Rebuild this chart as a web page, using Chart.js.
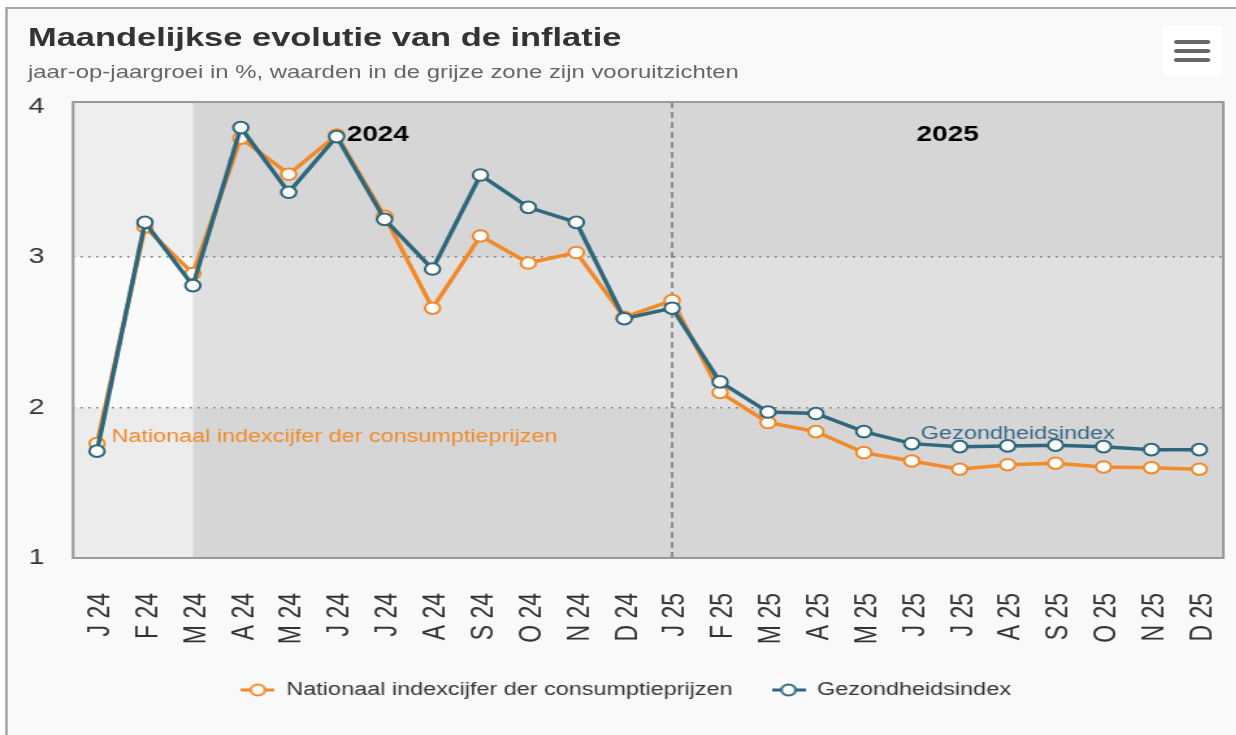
<!DOCTYPE html>
<html>
<head>
<meta charset="utf-8">
<script src="https://cdn.jsdelivr.net/npm/chart.js@4.4.1/dist/chart.umd.min.js"></script>
<style>
  html, body { margin: 0; padding: 0; background: #fff; overflow: hidden; }
  /* the reference is stretched horizontally, so the whole chart is drawn narrow and scaled */
  #wrap { position: absolute; left: 0; top: 0; width: 951px; height: 735px;
          transform: scaleX(1.3); transform-origin: 0 0;
          font-family: "Liberation Sans", Arial, sans-serif; }
  #frame { position: absolute; left: 4px; top: 7px; width: 1000px; height: 800px;
           border: 2px solid #a8a8a8; background: #f9f9f9; box-sizing: border-box; }
  #title { position: absolute; left: 21.5px; top: 22px; font-size: 26.5px; line-height: 30px;
           font-weight: bold; color: #333; white-space: nowrap; }
  #subtitle { position: absolute; left: 21.5px; top: 62px; font-size: 18.4px; line-height: 20px;
              color: #666; white-space: nowrap; }
  #menu { position: absolute; left: 894px; top: 26px; width: 46px; height: 50px;
          background: #fff; border-radius: 3px; }
  #menu span { position: absolute; left: 9px; width: 28px; height: 4px; border-radius: 2px; background: #666; }
  #chart { position: absolute; left: 0; top: 0; }
</style>
</head>
<body>
<div id="wrap">
  <div id="frame"></div>
  <canvas id="chart" width="951" height="735"></canvas>
  <div id="title">Maandelijkse evolutie van de inflatie</div>
  <div id="subtitle">jaar-op-jaargroei in %, waarden in de grijze zone zijn vooruitzichten</div>
  <div id="menu"><span style="top:14px"></span><span style="top:23px"></span><span style="top:32px"></span></div>
</div>
<script>
const months = ['J 24', 'F 24', 'M 24', 'A 24', 'M 24', 'J 24', 'J 24', 'A 24', 'S 24', 'O 24', 'N 24', 'D 24',
                'J 25', 'F 25', 'M 25', 'A 25', 'M 25', 'J 25', 'J 25', 'A 25', 'S 25', 'O 25', 'N 25', 'D 25'];
const nicp = [1.76, 3.20, 2.89, 3.79, 3.55, 3.81, 3.27, 2.66, 3.14, 2.96, 3.03, 2.60,
              2.71, 2.10, 1.90, 1.84, 1.70, 1.645, 1.59, 1.62, 1.63, 1.605, 1.60, 1.59];
const gezondheid = [1.71, 3.23, 2.81, 3.86, 3.43, 3.80, 3.25, 2.92, 3.545, 3.33, 3.23, 2.59,
                    2.66, 2.17, 1.97, 1.96, 1.84, 1.76, 1.74, 1.745, 1.75, 1.74, 1.72, 1.72];
const yTicks = [1, 2, 3, 4];
const forecastFrom = 2;   // index van M 24, begin grijze zone
const yearSplit = 12;     // index van J 25
const years = ['2024', '2025'];

const ORANGE = '#f28a2a';
const TEAL = '#2f687c';

// legend marker: lijn met open cirkel
function marker(color) {
  const c = document.createElement('canvas');
  c.width = 26; c.height = 14;
  const g = c.getContext('2d');
  g.strokeStyle = color; g.lineWidth = 3;
  g.beginPath(); g.moveTo(0, 7); g.lineTo(26, 7); g.stroke();
  g.fillStyle = '#fff'; g.lineWidth = 2;
  g.beginPath(); g.arc(13, 7, 5.5, 0, Math.PI * 2); g.fill(); g.stroke();
  return c;
}

const bandsPlugin = {
  id: 'bands',
  beforeDraw(chart) {
    const {ctx, chartArea: a, scales: {x, y}} = chart;
    const xf = x.getPixelForValue(forecastFrom);
    const y3 = y.getPixelForValue(3), y2 = y.getPixelForValue(2);
    ctx.save();
    // niet-vooruitzicht deel
    ctx.fillStyle = '#eeeeee'; ctx.fillRect(a.left, a.top, xf - a.left, y3 - a.top);
    ctx.fillStyle = '#fafafa'; ctx.fillRect(a.left, y3, xf - a.left, y2 - y3);
    ctx.fillStyle = '#ececec'; ctx.fillRect(a.left, y2, xf - a.left, a.bottom - y2);
    // grijze zone
    ctx.fillStyle = '#d6d6d6'; ctx.fillRect(xf, a.top, a.right - xf, y3 - a.top);
    ctx.fillStyle = '#e0e0e0'; ctx.fillRect(xf, y3, a.right - xf, y2 - y3);
    ctx.fillStyle = '#d6d6d6'; ctx.fillRect(xf, y2, a.right - xf, a.bottom - y2);
    ctx.restore();
  },
  beforeDatasetsDraw(chart) {
    const {ctx, chartArea: a, scales: {x}} = chart;
    const xs = x.getPixelForValue(yearSplit);
    ctx.save();
    ctx.strokeStyle = '#777'; ctx.lineWidth = 1.5; ctx.setLineDash([6, 4]);
    ctx.beginPath(); ctx.moveTo(xs, a.top); ctx.lineTo(xs, a.bottom); ctx.stroke();
    ctx.setLineDash([]);
    ctx.strokeStyle = '#999'; ctx.lineWidth = 2;
    ctx.strokeRect(a.left, a.top, a.right - a.left, a.bottom - a.top);
    // jaartallen
    const start = x.getPixelForValue(0) - (x.getPixelForValue(1) - x.getPixelForValue(0)) / 2;
    ctx.fillStyle = '#000'; ctx.font = 'bold 21.5px "Liberation Sans", Arial, sans-serif';
    ctx.textAlign = 'center'; ctx.textBaseline = 'middle';
    ctx.fillText(years[0], (start + xs) / 2 + 4, a.top + 33);
    ctx.fillText(years[1], (xs + a.right) / 2, a.top + 33);
    ctx.restore();
  },
  afterDatasetsDraw(chart) {
    const {ctx} = chart;
    const p0 = chart.getDatasetMeta(0).data[0];
    const p1 = chart.getDatasetMeta(1).data[17];
    ctx.save();
    ctx.font = '18px "Liberation Sans", Arial, sans-serif';
    ctx.textBaseline = 'middle'; ctx.textAlign = 'left';
    ctx.fillStyle = ORANGE; ctx.fillText(chart.data.datasets[0].label, p0.x + 11, p0.y - 7);
    ctx.fillStyle = '#3b6a84'; ctx.fillText(chart.data.datasets[1].label, p1.x + 7, p1.y - 10);
    ctx.restore();
  }
};

new Chart(document.getElementById('chart'), {
  type: 'line',
  data: {
    labels: months,
    datasets: [
      {
        label: 'Nationaal indexcijfer der consumptieprijzen',
        data: nicp,
        borderColor: ORANGE,
        borderWidth: 3.5,
        pointRadius: 5.8,
        pointBorderWidth: 2,
        pointBackgroundColor: '#fff',
        pointBorderColor: ORANGE,
        order: 1
      },
      {
        label: 'Gezondheidsindex',
        data: gezondheid,
        borderColor: TEAL,
        borderWidth: 3.5,
        pointRadius: 5.8,
        pointBorderWidth: 2,
        pointBackgroundColor: '#fff',
        pointBorderColor: TEAL,
        order: 0
      }
    ]
  },
  options: {
    responsive: false,
    devicePixelRatio: 1,
    animation: false,
    layout: { padding: { left: 22, right: 10, top: 102, bottom: 26 } },
    scales: {
      x: {
        offset: true,
        grid: { display: false },
        border: { display: false },
        afterFit: s => { s.height = 93; s.paddingLeft = 0; s.paddingRight = 0; },
        ticks: {
          autoSkip: false, minRotation: 90, maxRotation: 90, padding: 27, labelOffset: 3,
          color: '#333', font: { size: 23, family: '"Liberation Sans", Arial, sans-serif' }
        }
      },
      y: {
        min: 1,
        max: 4.03,
        afterBuildTicks: s => { s.ticks = yTicks.map(v => ({ value: v })); },
        afterFit: s => { s.width = 34.2; },
        grid: {
          drawTicks: false,
          lineWidth: 1.5,
          color: c => (c.tick && (c.tick.value === 2 || c.tick.value === 3)) ? '#777' : 'rgba(0,0,0,0)'
        },
        border: { display: false, dash: [1.5, 4.5] },
        ticks: {
          crossAlign: 'far', padding: 0,
          color: '#333', font: { size: 22, family: '"Liberation Sans", Arial, sans-serif' }
        }
      }
    },
    plugins: {
      title: { display: false },
      tooltip: { enabled: false },
      legend: {
        position: 'bottom',
        labels: {
          usePointStyle: true,
          pointStyleWidth: 26,
          padding: 30,
          color: '#333',
          font: { size: 18, family: '"Liberation Sans", Arial, sans-serif' },
          generateLabels(chart) {
            const items = Chart.defaults.plugins.legend.labels.generateLabels(chart);
            items.sort((a, b) => a.datasetIndex - b.datasetIndex);
            items.forEach(it => { it.pointStyle = marker(chart.data.datasets[it.datasetIndex].borderColor); });
            return items;
          }
        }
      }
    }
  },
  plugins: [bandsPlugin]
});
</script>
</body>
</html>
